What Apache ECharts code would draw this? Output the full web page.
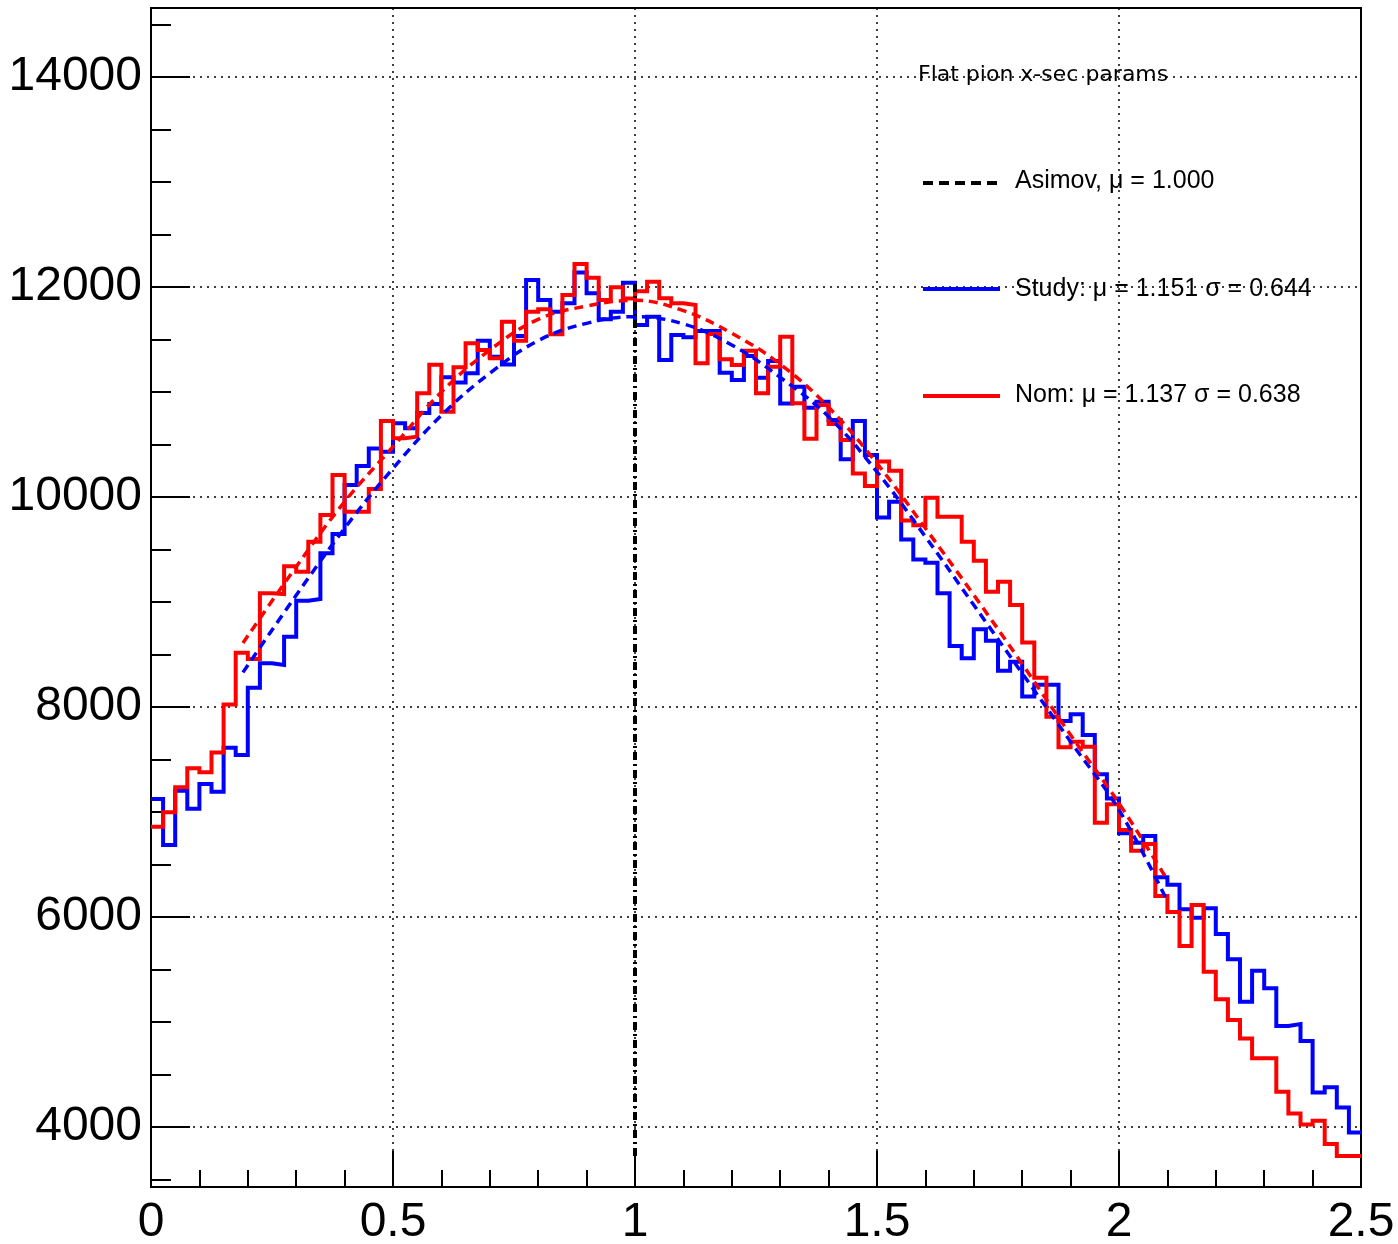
<!DOCTYPE html>
<html><head><meta charset="utf-8">
<script src="https://cdn.jsdelivr.net/npm/echarts@6/dist/echarts.min.js"></script>
<style>html,body{margin:0;padding:0;background:#fff}#c{width:1398px;height:1244px}</style>
</head><body><div id="c"></div>
<script>
// ---- data ----
const binStart = 0;
const binWidth = 0.025;
const studyValues = [
 7124,6686,7203,7032,7267,7194,7613,7543,8184,8416,
 8400,8670,9013,9029,9464,9648,10114,10295,10463,10432,
 10702,10654,10800,10886,11140,11090,11178,11489,11336,11263,
 11533,12067,11876,11765,11845,12137,11940,11692,11765,12041,
 11638,11717,11305,11543,11521,11581,11581,11184,11114,11343,
 11136,11295,10890,11051,10850,10908,10733,10359,10724,10400,
 9805,9955,9595,9406,9374,9083,8581,8464,8740,8632,
 8345,8432,8100,8213,8213,7868,7932,7733,7359,7130,
 6797,6708,6771,6378,6308,6073,5994,6083,5838,5597,
 5194,5489,5321,4962,4981,4819,4330,4378,4187,3949
];
const nomValues = [
 6860,6997,7235,7416,7378,7568,8025,8517,8457,9083,
 9076,9340,9289,9575,9829,10210,9860,9860,10076,10724,
 10559,10575,10987,11260,10813,11235,11464,11400,11321,11670,
 11489,11765,11787,11550,11924,12219,12089,11876,11997,11890,
 11960,12051,11892,11845,11829,11273,11552,11311,11257,11394,
 10987,11241,11527,10892,10555,10876,10695,10543,10225,10105,
 10337,10251,9776,9730,9992,9813,9813,9575,9393,9098,
 9193,8971,8615,8278,7908,7616,7670,7622,6898,7073,
 6829,6632,6695,6200,6048,5724,6114,5479,5216,5019,
 4844,4654,4654,4337,4130,4025,4060,3838,3724,3724
];
const fitX =      [0.19, 0.3, 0.4, 0.5, 0.6, 0.7, 0.8, 0.9, 1.0, 1.1, 1.2, 1.3, 1.4, 1.5, 1.6, 1.7, 1.8, 1.9, 2.0, 2.1];
const studyFit =  [8330, 9064, 9702,10273,10778,11178,11489,11654,11717,11648,11448,11140,10765,10240,9622,8971,8321,7670,7019,6150];
const nomFit =    [8610, 9336, 9955,10479,11000,11400,11692,11819,11873,11775,11559,11265,10854,10320,9702,9067,8410,7733,7083,6352];
const asimovMu = 1.0;
const asimovLineY = [3724, 12040];
const xRange = [0, 2.5];
const yRange = [3429, 14657];
const yMajorTicks = [4000, 6000, 8000, 10000, 12000, 14000];
const yMinorTicks = [3500,4000,4500,5000,5500,6000,6500,7000,7500,8000,8500,9000,9500,10000,10500,11000,11500,12000,12500,13000,13500,14000,14500];
const legendHeader = 'Flat pion x-sec params';
const legendLabels = ['Asimov, \u03bc = 1.000', 'Study: \u03bc = 1.151 \u03c3 = 0.644', 'Nom: \u03bc = 1.137 \u03c3 = 0.638'];
const colors = {study: '#0000ff', nom: '#ff0000', asimov: '#000000'};

// ---- build ----
function histPoints(vals) {
  const pts = vals.map((v, i) => [binStart + i * binWidth, v]);
  pts.push([binStart + vals.length * binWidth, vals[vals.length - 1]]);
  return pts;
}
const zip = (xs, ys) => xs.map((x, i) => [x, ys[i]]);

const FONT = '"Liberation Sans", Arial, Helvetica, sans-serif';
const gridLine = {show: true, lineStyle: {color: '#000', width: 1.5, type: [2, 5]}};
const axisBlack = {color: '#000', width: 2};

const chart = echarts.init(document.getElementById('c'), null, {renderer: 'canvas'});
chart.setOption({
  animation: false,
  backgroundColor: '#fff',
  grid: {left: 151, right: 37, top: 8, bottom: 57, show: true, borderColor: '#000', borderWidth: 2,
         containLabel: false, outerBoundsMode: 'none'},
  xAxis: {
    type: 'value', min: xRange[0], max: xRange[1], interval: 0.5,
    axisLine: {onZero: false, lineStyle: axisBlack},
    axisTick: {inside: true, length: 36, lineStyle: axisBlack},
    minorTick: {show: true, splitNumber: 5, length: 17, lineStyle: axisBlack},
    axisLabel: {fontSize: 48, color: '#000', fontFamily: FONT, margin: 12, formatter: v => String(v)},
    splitLine: gridLine
  },
  yAxis: [{
    type: 'value', min: yRange[0], max: yRange[1], position: 'left',
    axisLine: {show: true, onZero: false, lineStyle: axisBlack},
    axisTick: {show: true, inside: true, length: 39, lineStyle: axisBlack, customValues: yMajorTicks},
    axisLabel: {fontSize: 48, color: '#000', fontFamily: FONT, margin: 9, customValues: yMajorTicks, formatter: v => String(v)},
    splitLine: gridLine
  }, {
    type: 'value', min: yRange[0], max: yRange[1], position: 'left', offset: 0,
    axisLine: {show: false},
    axisTick: {show: true, inside: true, length: 20, lineStyle: axisBlack, customValues: yMinorTicks},
    axisLabel: {show: false},
    splitLine: {show: false}
  }],
  series: [
    {name: 'Study', type: 'line', step: 'end', data: histPoints(studyValues), symbol: 'none', z: 2,
     lineStyle: {color: colors.study, width: 4, join: 'miter', cap: 'butt'}},
    {name: 'Nom', type: 'line', step: 'end', data: histPoints(nomValues), symbol: 'none', z: 3,
     lineStyle: {color: colors.nom, width: 4, join: 'miter', cap: 'butt'}},
    {name: 'Study fit', type: 'line', smooth: 0.4, data: zip(fitX, studyFit), symbol: 'none', z: 4,
     lineStyle: {color: colors.study, width: 3.5, type: [9, 6]}},
    {name: 'Nom fit', type: 'line', smooth: 0.4, data: zip(fitX, nomFit), symbol: 'none', z: 4,
     lineStyle: {color: colors.nom, width: 3.5, type: [9, 6]}},
    {name: 'Asimov', type: 'line', data: asimovLineY.map(y => [asimovMu, y]), symbol: 'none', z: 5,
     lineStyle: {color: colors.asimov, width: 4, type: [8, 4, 2, 4]}}
  ],
  graphic: [
    {type: 'text', x: 918, y: 75, z: 10, style: {text: legendHeader, fill: '#000', fontSize: 22, fontFamily: '"DejaVu Sans", sans-serif', verticalAlign: 'middle', align: 'left'}},
    {type: 'line', z: 10, shape: {x1: 923, y1: 183, x2: 1000, y2: 183}, style: {stroke: colors.asimov, lineWidth: 4, lineDash: [10, 6]}},
    {type: 'text', x: 1015, y: 181, z: 10, style: {text: legendLabels[0], fill: '#000', fontSize: 25, fontFamily: FONT, verticalAlign: 'middle', align: 'left'}},
    {type: 'line', z: 10, shape: {x1: 923, y1: 289, x2: 1000, y2: 289}, style: {stroke: colors.study, lineWidth: 4}},
    {type: 'text', x: 1015, y: 289, z: 10, style: {text: legendLabels[1], fill: '#000', fontSize: 25, fontFamily: FONT, verticalAlign: 'middle', align: 'left'}},
    {type: 'line', z: 10, shape: {x1: 923, y1: 396, x2: 1000, y2: 396}, style: {stroke: colors.nom, lineWidth: 4}},
    {type: 'text', x: 1015, y: 395, z: 10, style: {text: legendLabels[2], fill: '#000', fontSize: 25, fontFamily: FONT, verticalAlign: 'middle', align: 'left'}}
  ]
});
</script></body></html>
